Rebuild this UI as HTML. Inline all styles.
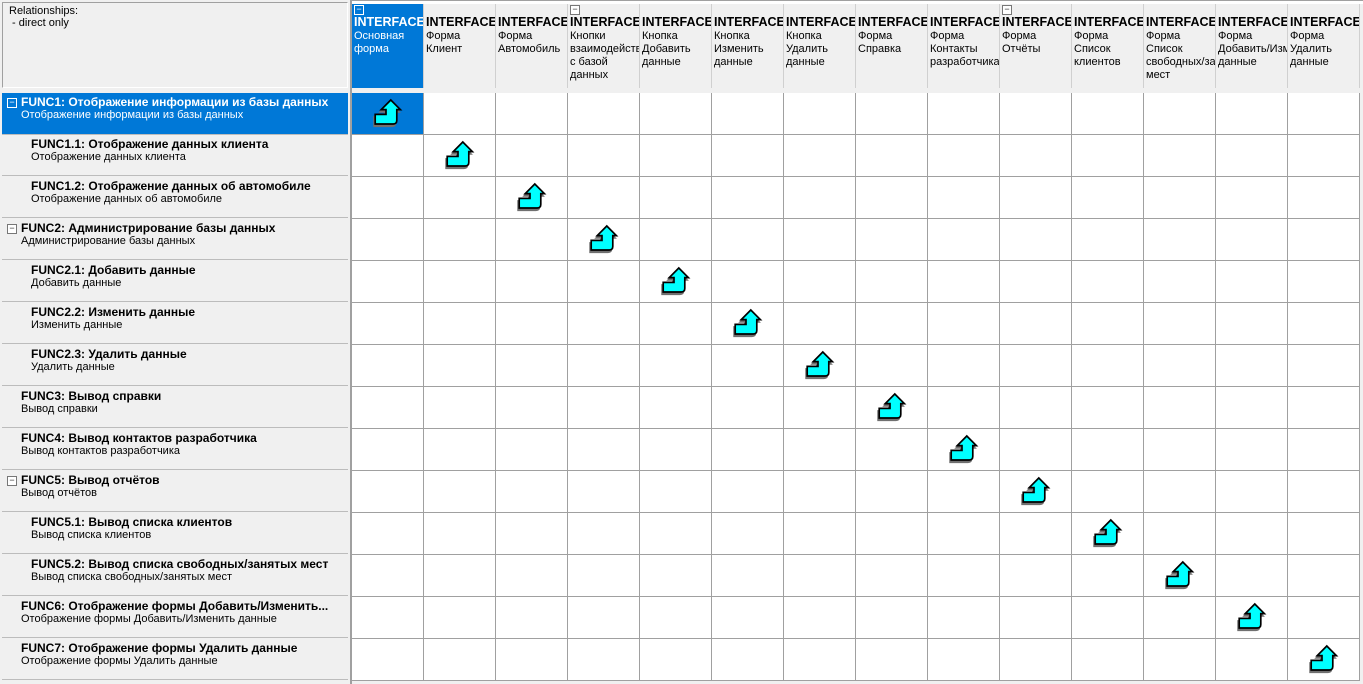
<!DOCTYPE html>
<html><head><meta charset="utf-8">
<style>
body{margin:0;width:1363px;height:684px;overflow:hidden;background:#f0f0f0;font-family:"Liberation Sans","DejaVu Sans",sans-serif;font-size:11px;position:relative}
.abs{position:absolute;box-sizing:border-box}
.corner{left:2px;top:2px;width:346px;height:86px;border:1px solid #a0a0a0;border-right-color:#fff;border-bottom-color:#fff;padding:2px 6px;line-height:12px;color:#000;background:#f0f0f0}
.colh{top:4px;height:84px;width:72px;border-right:1px solid #d0d0d0;padding:0 2px;overflow:hidden;line-height:13px;background:#f0f0f0;white-space:nowrap}
.colh b{display:block;font-size:12.5px;margin-top:10px;line-height:16px}
.colh.sel{background:#0078d7;color:#fff}
.box{position:absolute;width:8px;height:8px;border:1px solid #777;background:#fff;font-size:9px;line-height:7px;text-align:center;color:#333}
.colh .box{top:1px;left:2px}
.colh.sel .box{border-color:#fff;background:#0078d7;color:#fff}
.rowh{left:2px;width:346px;height:42px;border-bottom:1px solid #bcbcbc;line-height:13px;white-space:nowrap;overflow:hidden}
.rowh.sel{background:#0078d7;color:#fff}
.rowh b{display:block;margin-top:3px;font-size:12px}
.cell{width:72px;height:42px;border-right:1px solid #a0a0a0;border-bottom:1px solid #a0a0a0;background:#fff}
.cell.sel{background:#0078d7}
</style></head><body>
<div class="abs corner">Relationships:<br>&nbsp;- direct only</div>
<div class="abs" style="left:350px;top:0;width:2px;height:684px;background:#a0a0a0"></div>
<div class="abs" style="left:352px;top:0;width:1011px;height:4px;background:#fff;border-top:1px solid #a0a0a0"></div>
<div id="root"></div>
<script>
const cols=[["Основная","форма"],["Форма","Клиент"],["Форма","Автомобиль"],["Кнопки","взаимодействия","с базой","данных"],["Кнопка","Добавить","данные"],["Кнопка","Изменить","данные"],["Кнопка","Удалить","данные"],["Форма","Справка"],["Форма","Контакты","разработчика"],["Форма","Отчёты"],["Форма","Список","клиентов"],["Форма","Список","свободных/занятых","мест"],["Форма","Добавить/Изменить","данные"],["Форма","Удалить","данные"]];
const colCollapsible=[true,false,false,true,false,false,false,false,false,true,false,false,false,false];
const rowTitles=["FUNC1: Отображение информации из базы данных","FUNC1.1: Отображение данных клиента","FUNC1.2: Отображение данных об автомобиле","FUNC2: Администрирование базы данных","FUNC2.1: Добавить данные","FUNC2.2: Изменить данные","FUNC2.3: Удалить данные","FUNC3: Вывод справки","FUNC4: Вывод контактов разработчика","FUNC5: Вывод отчётов","FUNC5.1: Вывод списка клиентов","FUNC5.2: Вывод списка свободных/занятых мест","FUNC6: Отображение формы Добавить/Изменить...","FUNC7: Отображение формы Удалить данные"];
const rowSubs=["Отображение информации из базы данных","Отображение данных клиента","Отображение данных об автомобиле","Администрирование базы данных","Добавить данные","Изменить данные","Удалить данные","Вывод справки","Вывод контактов разработчика","Вывод отчётов","Вывод списка клиентов","Вывод списка свободных/занятых мест","Отображение формы Добавить/Изменить данные","Отображение формы Удалить данные"];
const rowLevel=[0,1,1,0,1,1,1,0,0,0,1,1,0,0];
const rowCollapsible=[true,false,false,true,false,false,false,false,false,true,false,false,false,false];
const links=[[0,0],[1,1],[2,2],[3,3],[4,4],[5,5],[6,6],[7,7],[8,8],[9,9],[10,10],[11,11],[12,12],[13,13]];
const X0=352,CW=72,Y0=93,RH=42;
const root=document.getElementById('root');
function mk(cls,l,t){const d=document.createElement('div');d.className='abs '+cls;d.style.left=l+'px';d.style.top=t+'px';root.appendChild(d);return d;}
cols.forEach((c,i)=>{
  const d=mk('colh'+(i===0?' sel':''),X0+i*CW,4);
  
  
  d.innerHTML=(colCollapsible[i]?'<span class="box">−</span>':'')+'<b>INTERFACE</b>'+c.join('<br>');
});
rowTitles.forEach((t,r)=>{
  const y=Y0+r*RH;
  const d=mk('rowh'+(r===0?' sel':''),2,y);
  d.style.height=(r===0?42:41)+'px';
  
  
  const ind=rowLevel[r]?29:19;
  d.style.paddingLeft=ind+'px';
  d.innerHTML=(rowCollapsible[r]?'<span class="box" style="left:5px;top:5px;'+(r===0?'border-color:#fff;background:#0078d7;color:#fff':'')+'">−</span>':'')+'<b>'+t+'</b>'+rowSubs[r];
  cols.forEach((c,i)=>{
    const e=mk('cell'+(r===0&&i===0?' sel':''),X0+i*CW,y);
    
    
  });
});
const arrowPath="M14,0 L22,8 L19,8 L19,17 Q19,20 16,20 L1,20 L1,12 L10,12 L10,8 L6,8 Z";
links.forEach(([r,c])=>{
  const s=document.createElementNS('http://www.w3.org/2000/svg','svg');
  s.setAttribute('width','34');s.setAttribute('height','32');
  s.style.position='absolute';
  s.style.left=(X0+c*CW+19)+'px';
  s.style.top=(Y0+r*RH+5)+'px';
  
  
  s.innerHTML='<g transform="translate(3,2) scale(1.2)"><path d="'+arrowPath+'" transform="translate(-1,2)" fill="#707070" stroke="#707070" stroke-width="1.2"/><path d="'+arrowPath+'" fill="#00ffff" stroke="#000" stroke-width="1.4" stroke-linejoin="miter"/></g>';
  root.appendChild(s);
});
</script>
</body></html>
